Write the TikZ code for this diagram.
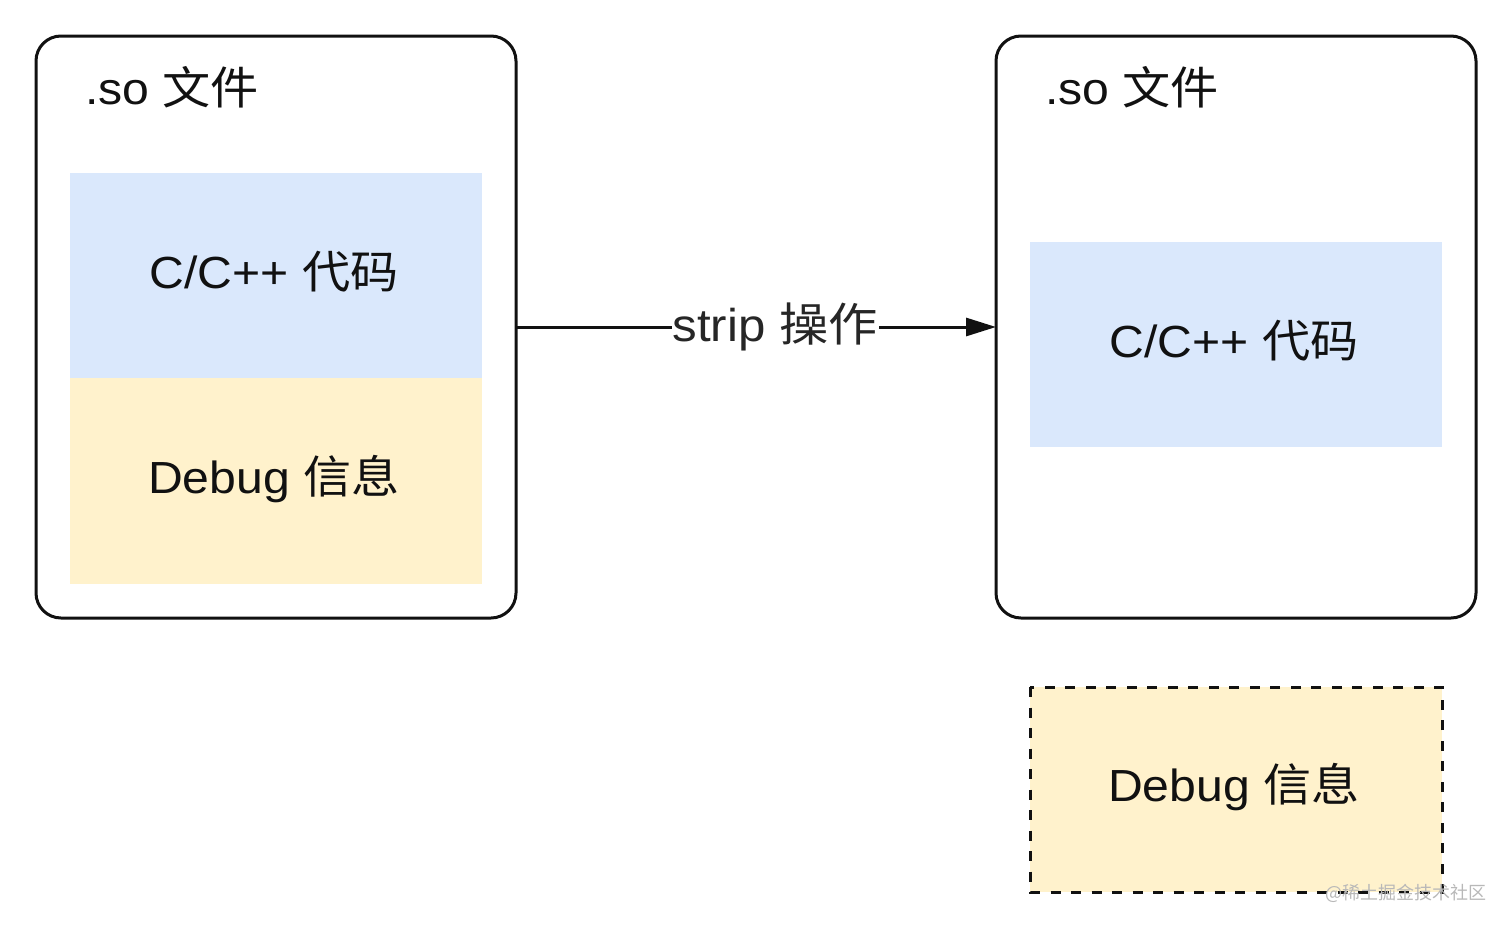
\documentclass[tikz,border=0pt]{standalone}
\usepackage{fontspec}
\setmainfont[FakeStretch=1.07]{Liberation Sans}
\newfontfamily\cjk[FakeStretch=1.07]{Noto Sans CJK SC}
\newfontfamily\cjkw{Noto Sans CJK SC}
\usetikzlibrary{arrows.meta}
\definecolor{blueblk}{HTML}{DAE8FC}
\definecolor{yellowblk}{HTML}{FFF2CC}
\definecolor{ink}{HTML}{111111}
\tikzset{
  sofile/.style={draw=ink, line width=3pt, rounded corners=25pt, fill=white},
  codeblk/.style={fill=blueblk, draw=none},
  dbgblk/.style={fill=yellowblk, draw=none},
  dbgdash/.style={fill=yellowblk, draw=ink, line width=3pt, dash pattern=on 10pt off 10.5pt},
  lbl/.style={inner sep=0pt, text=ink, font=\fontsize{45}{48}\selectfont},
  oplbl/.style={inner sep=1pt, fill=white, text=black!85, font=\fontsize{46}{50}\selectfont},
  conn/.style={draw=ink, line width=3pt, -{Triangle[length=30pt,width=18pt]}},
}
\begin{document}
\begin{tikzpicture}[x=1pt,y=-1pt]
\useasboundingbox (0,0) rectangle (1512,929);
% left file
\draw[sofile] (36,36) rectangle (516,618);
\coordinate (Le) at (516,327);
\fill[codeblk] (70,173) rectangle (482,378);
\fill[dbgblk] (70,378) rectangle (482,584);
\node[lbl, anchor=west] (lt) at (85,87) {.so {\cjk 文件}};
\node[lbl] (lc) at (274,272) {C/C++ {\cjk 代码}};
\node[lbl] (ld) at (274,479) {Debug {\cjk 信息}};
% right file
\draw[sofile] (996,36) rectangle (1476,618);
\coordinate (Rw) at (996,327);
\fill[codeblk] (1030,242) rectangle (1442,447);
\node[lbl, anchor=west] (rt) at (1045,87) {.so {\cjk 文件}};
\node[lbl] (rc) at (1234,341) {C/C++ {\cjk 代码}};
% detached debug info
\draw[dbgdash] (1030,687) rectangle (1442,892);
\node[lbl] (rd) at (1234,787) {Debug {\cjk 信息}};
% arrow
\draw[conn] (Le) -- node[oplbl, pos=0.54] (op) {strip {\cjk 操作}} (Rw);
% watermark
\node[inner sep=0pt, text=black!28, font=\cjkw\fontsize{18}{20}\selectfont] (wm) at (1406,893) {@稀土掘金技术社区};
\end{tikzpicture}
\end{document}
